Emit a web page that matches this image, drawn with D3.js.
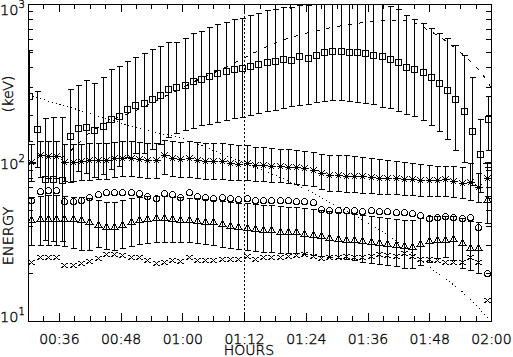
<!DOCTYPE html>
<html>
<head>
<meta charset="utf-8">
<script src="https://cdn.jsdelivr.net/npm/d3@7"></script>
<style>
  body { margin: 0; background: #fff; }
  svg { display: block; font-family: "DejaVu Sans", sans-serif; font-weight: 200; }
  svg text { fill: #000; stroke: #000; stroke-width: 0.35px; }
</style>
</head>
<body>
<div id="plot"></div>
<script>
// sample times, decimal minutes after 00:00
const squareTimes = [30.14,31.73,33.33,34.92,36.52,38.11,39.71,41.30,42.90,44.49,46.09,47.68,49.28,50.87,52.47,54.06,55.66,57.25,58.85,60.44,62.04,63.63,65.23,66.82,68.42,70.01,71.61,73.20,74.80,76.39,77.99,79.58,81.18,82.77,84.37,85.96,87.56,89.15,90.75,92.34,93.94,95.53,97.13,98.72,100.32,101.91,103.51,105.10,106.70,108.29,109.89,111.48,113.08,114.67,116.27,117.86,119.46];
const channelTimes = [30.66,32.27,33.88,35.49,37.09,38.70,40.31,41.92,43.53,45.14,46.75,48.35,49.96,51.57,53.18,54.79,56.40,58.01,59.61,61.22,62.83,64.44,66.05,67.66,69.27,70.88,72.48,74.09,75.70,77.31,78.92,80.53,82.14,83.74,85.35,86.96,88.57,90.18,91.79,93.40,95.00,96.61,98.22,99.83,101.44,103.05,104.66,106.27,107.87,109.48,111.09,112.70,114.31,115.92,117.52,119.13];

// energies in keV
const squareVals = [264,163,79,79,78,148,166,168,160,171,188,197,219,230,236,251,267,290,298,307,328,336,351,369,378,389,393,406,416,429,439,448,446,472,454,477,496,505,506,500,496,489,477,470,450,433,402,389,371,345,316,287,252,211,158,113,188];
const squareHi = [513,284,191,194,194,290,308,332,317,345,389,408,439,461,489,518,546,578,578,608,653,679,719,748,773,801,812,852,874,917,930,953,953,990,990,1029,1060,1080,1080,1070,1060,1050,1044,1015,971,926,852,801,756,703,659,608,551,477,345,188,264];
const squareLo = [137,94,32.4,32,32,75.3,88.4,85.9,81,84.6,91,95.1,108,115,115,122,131,145,154,160,165,172,175,181,185,190,195,198,204,211,214,222,226,231,234,242,244,248,248,244,242,238,233,225,220,211,202,197,185,172,158,141,120,100,72,65,120];

const starVals = [100.7,111.5,110.7,110.7,100.7,100.7,101.5,103.0,103.7,103.7,106.0,107.5,107.5,105.2,103.7,103.7,111.5,107.5,105.2,107.5,103.7,101.5,101.5,101.5,99.3,98.5,99.3,96.4,96.4,95.7,95.0,94.3,93.0,91.9,89.7,86.3,83.4,83.4,82.6,82.2,81.6,81.0,80.4,79.8,79.8,79.2,78.7,78.1,77.5,77.5,78.3,76.7,73.9,75.6,69.8,79.5];
const starHi = [130.9,136.7,136.7,136.7,130.9,130.9,130.9,132.8,132.8,132.8,134.7,136.7,136.7,134.7,132.8,132.8,138.7,136.7,134.7,136.7,134.7,132.8,132.8,132.8,130.9,129.0,129.0,125.3,125.3,123.5,121.7,121.7,119.9,118.2,116.5,113.1,111.5,111.5,111.5,109.9,108.3,106.7,105.2,103.7,102.2,100.7,99.3,97.8,96.4,95.0,95.0,95.0,93.7,99.3,85.9,100.7];
const starLo = [76.4,81.0,79.8,79.8,76.4,76.4,77.5,77.5,78.7,78.7,81.0,82.2,82.2,81.0,79.8,79.8,84.6,82.2,81.0,81.0,79.8,78.7,78.7,78.7,77.5,77.5,77.5,76.4,76.4,75.3,75.3,74.2,73.2,72.1,71.1,68.1,66.1,66.1,65.2,65.2,64.2,64.2,63.3,63.3,63.3,62.4,62.4,61.5,61.5,61.5,61.5,60.6,59.7,58.0,56.4,61.5];

const circleVals = [57.8,66.1,66.9,66.9,57.5,57.5,57.9,60.4,63.5,64.9,65.6,65.3,65.3,64.4,61.9,59.3,64.2,63.7,60.6,65.2,61.5,60.6,60.0,60.6,60.0,59.1,60.0,58.3,58.3,58.3,57.8,57.8,57.2,56.9,56.4,51.2,49.9,49.9,49.9,49.8,49.4,49.8,49.4,49.1,48.7,48.4,48.0,46.6,44.4,45.5,46.0,45.5,44.4,45.5,39.4,20.0];

const triVals = [43.4,44.0,44.0,44.0,44.0,44.0,43.4,42.1,40.3,39.0,39.0,40.3,42.1,43.4,43.7,44.4,44.4,43.8,43.6,43.2,42.8,42.1,42.1,41.1,39.8,39.2,38.8,38.3,37.3,37.3,36.5,36.5,36.5,35.3,34.8,34.3,33.6,33.1,32.5,32.3,32.0,31.5,31.2,30.8,30.3,29.6,29.3,30.8,31.8,32.5,32.3,33.1,31.1,29.0,29.0,57.8];
const triHi = [60.6,61.5,62.4,62.4,61.5,60.6,60.6,59.7,58.0,56.4,56.4,58.0,59.7,60.6,61.5,61.5,61.5,60.6,60.6,59.7,59.7,58.9,58.0,57.2,56.4,55.5,55.5,54.7,53.9,53.9,53.2,52.4,52.4,51.6,50.9,50.2,49.4,48.7,48.0,47.3,46.6,46.0,45.3,44.7,44.0,43.4,43.4,44.7,46.0,46.0,46.0,46.0,44.7,42.8,42.1,93.7];
const triLo = [30.2,30.2,30.2,30.2,29.7,28.9,28.0,28.0,29.3,28.4,28.0,28.9,29.7,30.6,31.1,31.5,31.5,31.5,31.5,31.5,31.1,30.6,30.2,29.3,28.9,28.4,28.0,27.6,27.2,27.2,26.8,26.8,26.8,26.4,26.1,25.7,25.3,24.9,24.6,24.2,23.5,23.2,22.9,22.5,22.2,21.6,21.6,22.5,23.5,24.9,25.3,24.2,21.6,21.0,20.1,41.5];

const crossVals = [23.5,25.3,25.3,25.3,22.7,22.7,23.2,23.9,24.9,26.3,26.5,25.9,25.3,25.3,24.3,23.2,23.5,24.2,23.8,25.3,24.1,24.1,24.3,24.7,24.7,24.7,25.6,24.7,25.3,25.3,25.3,25.6,25.9,26.3,25.6,25.0,25.3,25.3,25.6,25.3,25.3,25.7,26.4,26.1,25.7,26.8,25.7,24.7,24.6,24.2,23.6,23.4,23.6,25.4,23.6,13.6];

// model curves
const dashTimes = [36.56,39.08,42.00,44.92,47.84,51.73,55.62,59.51,63.40,67.29,71.18,75.07,78.96,82.85,86.74,90.63,94.52,98.41,102.30,105.22,107.75,110.08,112.03,113.97,115.92,117.47,118.84,120.00];
const dashVals = [107,125,154,175,194,218,252,291,337,383,443,513,584,638,686,726,759,782,787,759,686,620,559,498,437,389,342,295];
const dotTimes = [30.14,36.17,43.95,50.37,55.03,59.51,63.40,69.23,75.07,80.91,89.27,96.47,102.30,108.72,113.97,116.89,119.81];
const dotVals = [264,233,195,169,154,144,129,108,91,75.6,54.9,40.9,30.8,21.0,15.7,12.8,10.1];

const markerTime = 72;
const majorTimes = [36,48,60,72,84,96,108,120];
const xTickLabels = ["00:36","00:48","01:00","01:12","01:24","01:36","01:48","02:00"];
const decades = [10,100,1000];
const decadeExp = ["1","2","3"];

const width = 513, height = 357;
const plotLeft = 28, plotRight = 491, plotTop = 4, plotBottom = 321;

const svg = d3.select("#plot").append("svg")
    .attr("width", width)
    .attr("height", height)
    .style("shape-rendering", "crispEdges");

const x = d3.scaleLinear().domain([30, 120]).range([plotLeft, plotRight]);
const y = d3.scaleLog().domain([10, 1000]).range([plotBottom, plotTop]);

svg.append("defs").append("clipPath").attr("id", "clip")
    .append("rect")
    .attr("x", plotLeft).attr("y", plotTop)
    .attr("width", plotRight - plotLeft + 1).attr("height", plotBottom - plotTop + 1);

// axes, ticks pointing inward on all four sides
const minorX = d3.range(33, 120, 3).filter(m => (m - 36) % 12 !== 0);
const minorY = [20,30,40,50,60,70,80,90,200,300,400,500,600,700,800,900];

function strip(g) {
    g.select(".domain").remove();
    g.selectAll("line").attr("stroke", "#000");
}

svg.append("g").attr("transform", `translate(0,${plotBottom})`)
    .call(d3.axisBottom(x).tickValues(minorX).tickSize(-5).tickFormat("")).call(strip);
const xAxis = svg.append("g").attr("transform", `translate(0,${plotBottom})`)
    .call(d3.axisBottom(x).tickValues(majorTimes).tickSizeInner(-8).tickSizeOuter(0)
        .tickPadding(13).tickFormat((d, i) => xTickLabels[i]))
    .call(strip);
xAxis.selectAll("text")
    .attr("font-family", "DejaVu Sans")
    .attr("font-size", 14)
    .attr("fill", "#000");
svg.append("g").attr("transform", `translate(0,${plotTop})`)
    .call(d3.axisTop(x).tickValues(minorX).tickSize(-5).tickFormat("")).call(strip);
svg.append("g").attr("transform", `translate(0,${plotTop})`)
    .call(d3.axisTop(x).tickValues(majorTimes).tickSize(-8).tickFormat("")).call(strip);

svg.append("g").attr("transform", `translate(${plotLeft},0)`)
    .call(d3.axisLeft(y).tickValues(minorY).tickSize(-5).tickFormat("")).call(strip);
svg.append("g").attr("transform", `translate(${plotLeft},0)`)
    .call(d3.axisLeft(y).tickValues(decades).tickSize(-8).tickFormat("")).call(strip);
svg.append("g").attr("transform", `translate(${plotRight},0)`)
    .call(d3.axisRight(y).tickValues(minorY).tickSize(-5).tickFormat("")).call(strip);
svg.append("g").attr("transform", `translate(${plotRight},0)`)
    .call(d3.axisRight(y).tickValues(decades).tickSize(-8).tickFormat("")).call(strip);

svg.append("rect")
    .attr("x", plotLeft + 0.5).attr("y", plotTop + 0.5)
    .attr("width", plotRight - plotLeft).attr("height", plotBottom - plotTop)
    .attr("fill", "none").attr("stroke", "#000");

// y labels 10^n
decades.forEach((d, i) => {
    const base = Math.max(15, Math.min(322, y(d) + 6));
    const t = svg.append("text")
        .attr("x", 0).attr("y", base)
        .attr("font-size", 14.5)
        .text("10");
    t.append("tspan")
        .attr("dy", -7)
        .attr("font-size", 10)
        .text(decadeExp[i]);
});

svg.append("text")
    .attr("transform", "translate(13,236) rotate(-90)")
    .attr("text-anchor", "middle")
    .attr("font-size", 14.5)
    .text("ENERGY");
svg.append("text")
    .attr("transform", "translate(13,94) rotate(-90)")
    .attr("text-anchor", "middle")
    .attr("font-size", 14.5)
    .text("(keV)");
svg.append("text")
    .attr("x", 249).attr("y", 355)
    .attr("text-anchor", "middle")
    .attr("font-size", 14)
    .text("HOURS");

// plot content
const plot = svg.append("g").attr("clip-path", "url(#clip)");

const px = t => Math.round(x(t)) + 0.5;

plot.append("line")
    .attr("x1", px(markerTime)).attr("x2", px(markerTime))
    .attr("y1", plotTop).attr("y2", plotBottom)
    .attr("stroke", "#000")
    .attr("stroke-dasharray", "2,2");

const line = d3.line()
    .x(d => x(d[0]))
    .y(d => y(d[1]))
    .curve(d3.curveMonotoneX);

plot.append("path")
    .datum(d3.zip(dashTimes, dashVals))
    .attr("d", line)
    .attr("fill", "none").attr("stroke", "#000")
    .attr("stroke-dasharray", "4,7");

plot.append("path")
    .datum(d3.zip(dotTimes, dotVals))
    .attr("d", line)
    .attr("fill", "none").attr("stroke", "#000")
    .attr("stroke-dasharray", "1,3");

function errorBars(times, hi, lo) {
    plot.append("g").selectAll("path")
        .data(d3.zip(times, hi, lo))
        .enter()
        .append("path")
        .attr("d", d => {
            const cx = px(d[0]);
            const y1 = Math.round(y(d[1])) + 0.5;
            const y2 = Math.round(y(d[2])) + 0.5;
            return `M${cx},${y1}V${y2}M${cx - 3},${y1}H${cx + 3}M${cx - 3},${y2}H${cx + 3}`;
        })
        .attr("fill", "none")
        .attr("stroke", "#000");
}

function markers(times, vals, shape) {
    plot.append("g").selectAll("path")
        .data(d3.zip(times, vals))
        .enter()
        .append("path")
        .attr("transform", d => `translate(${px(d[0])},${Math.round(y(d[1])) + 0.5})`)
        .attr("d", shape)
        .attr("fill", "none")
        .attr("stroke", "#000");
}

const squareShape = "M-3,-3H3V3H-3Z";
const circleShape = "M3,0A3,3 0 1,1 -3,0A3,3 0 1,1 3,0Z";
const triShape = "M0,-4L3.5,2H-3.5Z";
const starShape = "M-4,0H4M0,-4V4M-3,-3L3,3M-3,3L3,-3";
const crossShape = "M-3,-2.5L3,2.5M-3,2.5L3,-2.5";

errorBars(squareTimes, squareHi, squareLo);
errorBars(channelTimes, starHi, starLo);
errorBars(channelTimes, triHi, triLo);

markers(squareTimes, squareVals, squareShape);
markers(channelTimes, starVals, starShape);
markers(channelTimes, circleVals, circleShape);
markers(channelTimes, triVals, triShape);
markers(channelTimes, crossVals, crossShape);
</script>
</body>
</html>
